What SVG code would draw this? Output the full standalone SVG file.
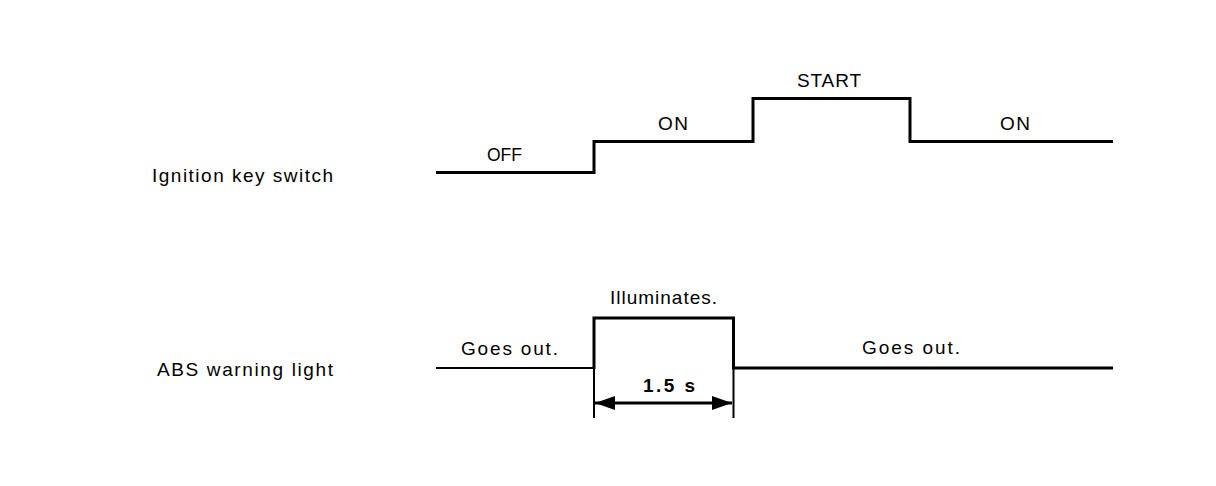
<svg xmlns="http://www.w3.org/2000/svg" width="1216" height="486" viewBox="0 0 1216 486">
<defs>
<style>
.t{font-family:"Liberation Sans",Arial,sans-serif;font-size:19px;fill:#000}
.b{font-weight:bold}
.w{fill:none;stroke:#000;stroke-linejoin:miter;stroke-linecap:butt}
</style>
<marker id="ah" viewBox="0 0 20 14" refX="20" refY="7" markerWidth="20" markerHeight="14" markerUnits="userSpaceOnUse" orient="auto-start-reverse">
<path d="M0,0 L20,7 L0,14 Z" fill="#000"/>
</marker>
</defs>
<rect width="1216" height="486" fill="#fff"/>
<g id="label-ignition"><text class="t" x="152" y="182" textLength="181" lengthAdjust="spacing">Ignition key switch</text></g>
<g id="label-abs"><text class="t" x="157" y="376" textLength="176" lengthAdjust="spacing">ABS warning light</text></g>
<g id="ignition-wave">
<path class="w" stroke-width="3" d="M436,172.5 H594 V141.5 H753 V98.5 H910 V141.5 H1113"/>
<text class="t" x="487" y="161" textLength="35" lengthAdjust="spacingAndGlyphs">OFF</text>
<text class="t" x="658" y="130" textLength="30" lengthAdjust="spacing">ON</text>
<text class="t" x="797" y="87" textLength="64" lengthAdjust="spacing">START</text>
<text class="t" x="1000" y="130" textLength="30" lengthAdjust="spacing">ON</text>
</g>
<g id="abs-wave">
<path class="w" stroke-width="2" d="M436,368 H594"/>
<path class="w" stroke-width="3" d="M594,369 V318 H733.5 V368 H1113"/>
<text class="t" x="461" y="355" textLength="97" lengthAdjust="spacing">Goes out.</text>
<text class="t" x="610" y="304" textLength="107" lengthAdjust="spacing">Illuminates.</text>
<text class="t" x="862" y="354" textLength="98" lengthAdjust="spacing">Goes out.</text>
</g>
<g id="connectors">
<path class="w" stroke-width="2" d="M594,368 V418 M733.5,368 V418"/>
<path class="w" stroke-width="3" d="M595,403 H732" marker-start="url(#ah)" marker-end="url(#ah)"/>
<text class="t b" x="643" y="392" textLength="52" lengthAdjust="spacing">1.5 s</text>
</g>
</svg>
